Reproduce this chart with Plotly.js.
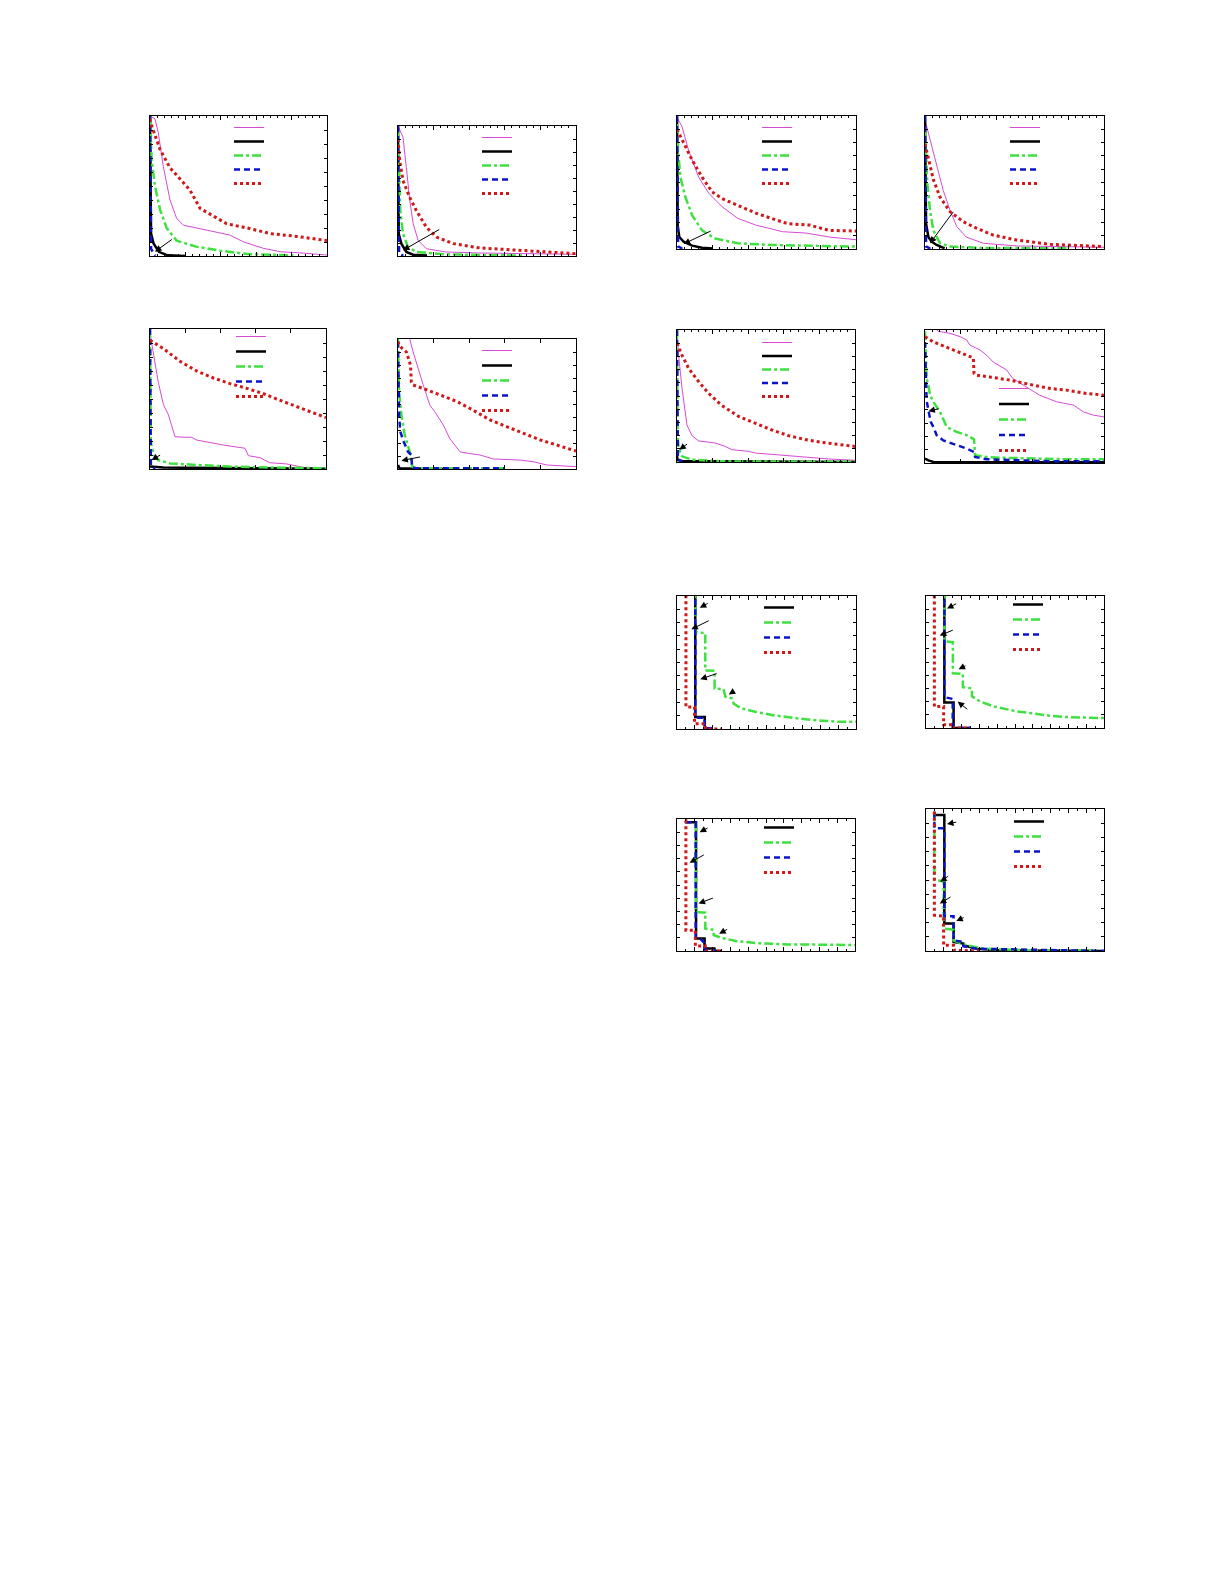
<!DOCTYPE html>
<html><head><meta charset="utf-8">
<script src="https://cdn.plot.ly/plotly-3.0.1.min.js"></script>
<style>html,body{margin:0;padding:0;background:#fff}#chart{width:1225px;height:1585px}</style>
</head><body><div id="chart"></div>
<script>
// ---------- DATA (x in % of run, y normalised) ----------
// Panel 1
const mag1x=[0,2.8,4.7,7.5,11.3,15,18.9,26,39.6,45,53,64,74,83,100];
const mag1y=[1.0,0.98,0.88,0.64,0.40,0.27,0.22,0.20,0.16,0.15,0.10,0.055,0.03,0.024,0.007];
const blk1x=[0,0.3,0.6,2,5,10,20];
const blk1y=[1,0.3,0.16,0.09,0.03,0.005,0];
const grn1x=[0,0.4,0.9,2.8,5.7,9.4,15,26,39.6,55,68,81];
const grn1y=[1,0.9,0.69,0.5,0.33,0.2,0.11,0.067,0.038,0.014,0.007,0.005];
const blu1x=[0,0.3,0.6,3];
const blu1y=[1,0.5,0.05,0.002];
const red1x=[0,0.4,5.7,11.3,17,22.6,28.3,34,43.4,55,68,83,100];
const red1y=[0.98,0.95,0.76,0.63,0.55,0.47,0.34,0.30,0.23,0.20,0.16,0.14,0.11];
const arrows1=[[2.8,0.031,13.2,0.126]];
// Panel 2
const mag2x=[0,0.9,2.8,4.7,6.6,8.5,11.3,16,27,46,100];
const mag2y=[1.0,0.97,0.915,0.68,0.43,0.25,0.12,0.056,0.031,0.023,0.013];
const blk2x=[0,0.4,1.9,4.7,8.5,16];
const blk2y=[1,0.17,0.095,0.031,0.01,0.003];
const grn2x=[0,0.6,1.3,2.8,5.6,10.3,27,46,70];
const grn2y=[0.95,0.61,0.35,0.17,0.07,0.031,0.013,0.008,0.003];
const blu2x=[0,0.3,0.6,3];
const blu2y=[1,0.4,0.02,0.002];
const red2x=[0,0.9,2.8,6.6,10.3,16,21.6,31,46,65,84,100];
const red2y=[0.9,0.74,0.58,0.45,0.35,0.22,0.146,0.095,0.062,0.044,0.031,0.018];
const arrows2=[[2.8,0.044,24,0.21]];
// Panel 3
const mag3x=[0,2.8,6.5,12.1,17.7,25,34,44,59,72,85,100];
const mag3y=[0.99,0.92,0.74,0.54,0.42,0.32,0.23,0.18,0.13,0.12,0.09,0.07];
const blk3x=[0,0.4,1.3,3.7,8.4,14,20];
const blk3y=[1,0.17,0.09,0.055,0.025,0.01,0.003];
const grn3x=[0,0.6,1.9,4.7,8.4,14,21,34,53,72,100];
const grn3y=[0.94,0.74,0.54,0.39,0.255,0.14,0.08,0.043,0.03,0.025,0.018];
const blu3x=[0,0.3,0.6,3];
const blu3y=[1,0.4,0.02,0.002];
const red3x=[0,2.8,8.4,14,19.6,25,34,44,55,62,74,85,100];
const red3y=[0.9,0.82,0.67,0.54,0.43,0.38,0.33,0.27,0.22,0.19,0.18,0.14,0.135];
const arrows3=[[3.7,0.038,19.6,0.14]];
// Panel 4
const mag4x=[0,2.8,6.5,10.2,14,17.7,23,32.6,51,70,100];
const mag4y=[0.97,0.82,0.62,0.44,0.29,0.17,0.09,0.043,0.023,0.018,0.013];
const blk4x=[0,0.6,1.9,3.7,6.5,11];
const blk4y=[1,0.19,0.09,0.055,0.03,0.005];
const grn4x=[0,0.6,1.3,2.8,4.7,8.4,14,32.6,79];
const grn4y=[0.9,0.74,0.49,0.29,0.14,0.043,0.018,0.008,0.005];
const blu4x=[0,0.3,0.6,3];
const blu4y=[1,0.4,0.02,0.002];
const red4x=[0,1.9,4.7,8.4,14,21.4,29,38,51,70,100];
const red4y=[0.79,0.67,0.52,0.39,0.28,0.205,0.155,0.105,0.068,0.035,0.018];
const arrows4=[[2.8,0.043,16.4,0.29]];
// Panel 5
const mag5x=[0,1.9,4.7,7.6,10.4,12.3,14.2,23.7,26.5,41.7,54,55.9,62.5,68,77.7,87,100];
const mag5y=[0.97,0.84,0.62,0.46,0.39,0.31,0.23,0.226,0.207,0.171,0.148,0.095,0.081,0.045,0.036,0.012,0.0];
const blk5x=[0,7.6,100];
const blk5y=[0.017,0.01,0.002];
const grn5x=[0,0.2,0.5,0.9,2.3,4.7,11.4,26.5,45.5,64,100];
const grn5y=[1,0.6,0.2,0.16,0.1,0.064,0.04,0.029,0.017,0.012,0.005];
const blu5x=[0,0.2,0.5,3];
const blu5y=[1,0.5,0.02,0.002];
const red5x=[0,7.6,17,26.5,36,45.5,55,64,74,83,93,100];
const red5y=[0.92,0.86,0.77,0.70,0.65,0.61,0.576,0.54,0.49,0.445,0.40,0.367];
const arrows5=[[0.9,0.064,6.6,0.105]];
// Panel 6
const mag6x=[4,6.6,8.5,11.3,14.1,17.9,20.7,25.4,29,34.8,39.5,46,53.6,68.6,76,83.6,100];
const mag6y=[1.2,1.0,0.90,0.77,0.65,0.49,0.44,0.34,0.236,0.133,0.12,0.108,0.077,0.069,0.056,0.031,0.018];
const blk6x=[0,0.9,30];
const blk6y=[0.03,0.005,0];
const grn6x=[0,0.3,0.6,1.9,3.8,6.6,8.1,10.3,60];
const grn6y=[1,0.8,0.595,0.415,0.26,0.133,0.018,0.005,0.005];
const blu6x=[0,0.6,1.3,3.2,5.6,7.5,7.9,10.3,60];
const blu6y=[0.98,0.415,0.287,0.21,0.133,0.108,0.01,0.005,0.005];
const red6x=[0,0.6,4.7,7,7.5,8.5,16,23.5,33,42,51.7,61,70.5,80,89,100];
const red6y=[0.98,0.95,0.90,0.80,0.67,0.646,0.61,0.57,0.52,0.454,0.377,0.326,0.274,0.223,0.185,0.138];
const arrows6=[[1.9,0.064,13.2,0.095]];
// Panel 7
const mag7x=[0,0.9,2.8,5.6,8.4,12.1,21.5,27,31,40,44,59,72,85,100];
const mag7y=[0.99,0.81,0.56,0.28,0.2,0.16,0.144,0.118,0.093,0.081,0.068,0.05,0.035,0.023,0.013];
const blk7x=[0,0.3,3,100];
const blk7y=[0.05,0.015,0.008,0.0];
const grn7x=[0,0.3,0.9,2.8,8.4,25,100];
const grn7y=[1,0.2,0.106,0.043,0.018,0.005,0.001];
const blu7x=[0,0.2,0.5,3];
const blu7y=[1,0.5,0.02,0.002];
const red7x=[0,2.8,6.5,12.1,17.8,25,34.6,44,53,62.6,72,81,100];
const red7y=[0.90,0.81,0.71,0.61,0.52,0.43,0.345,0.295,0.244,0.20,0.17,0.149,0.118];
const arrows7=[[1.3,0.093,6.5,0.144]];
// Panel 8
const mag8x=[5,7.4,14,19.6,23.3,25,30.7,34.5,38,45.6,49,55,64,73.6,83,88.5,94,100];
const mag8y=[1.02,0.99,0.975,0.95,0.925,0.887,0.85,0.81,0.76,0.70,0.636,0.585,0.51,0.46,0.435,0.384,0.36,0.347];
const blk8x=[0,1.9,4.7,100];
const blk8y=[0.033,0.02,0.008,0.005];
const grn8x=[0,0.4,0.9,1.9,2.8,4.7,8.4,12.1,17.7,23.3,27.4,28,34.5,42,60.5,79,100];
const grn8y=[0.99,0.81,0.636,0.585,0.51,0.46,0.384,0.271,0.234,0.209,0.178,0.058,0.045,0.04,0.033,0.028,0.028];
const blu8x=[0,0.6,0.9,1.9,3.2,4.7,6.5,10.2,15.8,23.3,27.4,28,34.5,51,70,100];
const blu8y=[0.91,0.61,0.47,0.397,0.31,0.27,0.209,0.17,0.146,0.108,0.083,0.045,0.028,0.02,0.013,0.013];
const red8x=[0,4.7,14,23.3,27,27.4,28.9,38,47.5,60.5,70,79,90,100];
const red8y=[0.95,0.91,0.86,0.81,0.79,0.673,0.66,0.643,0.623,0.585,0.56,0.548,0.523,0.51];
const arrows8=[[1.9,0.39,8.4,0.41]];
// Panel 9
const blk9x=[10.2,10.2,15.5,15.5,20];
const blk9y=[1.05,0.09,0.09,0,0];
const grn9x=[10.2,10.2,15.8,15.8,21,21,26,27,30.7,31.7,36,43.6,53,62.5,72,81,90,100];
const grn9y=[1.05,0.73,0.72,0.44,0.4375,0.305,0.30,0.243,0.23,0.19,0.155,0.13,0.105,0.0875,0.0725,0.0625,0.055,0.055];
const blu9x=[10.2,10.2,15.5,15.5,22];
const blu9y=[1.05,0.085,0.085,0.005,0.005];
const red9x=[5,5,9.8,9.8,15.8,15.8,25];
const red9y=[1.05,0.165,0.165,0.04,0.04,0,0];
const arrows9=[[12.7,0.9125,18,0.95],[8,0.75,18.6,0.82],[13,0.375,23,0.42],[28.9,0.26,32.6,0.29]];
// Panel 10
const blk10x=[10.3,10.3,15.5,15.5,25];
const blk10y=[1.05,0.193,0.193,0,0];
const grn10x=[10.3,10.3,15.1,15.1,20.7,20.7,25.8,25.8,30.5,38,51,60,70,79,100];
const grn10y=[1.05,0.658,0.65,0.415,0.41,0.31,0.30,0.24,0.2,0.163,0.126,0.108,0.093,0.083,0.075];
const blu10x=[10.3,10.3,15,15,25];
const blu10y=[1.05,0.234,0.22,0,0];
const red10x=[4.7,4.7,9.9,9.9,15.5,15.5,25];
const red10y=[1.05,0.163,0.163,0.025,0.025,0,0];
const arrows10=[[11.8,0.905,17.8,0.947],[7.7,0.70,15.9,0.746],[18.3,0.445,23,0.477],[17.8,0.20,24,0.133]];
// Panel 11
const blk11x=[4.7,10.7,10.7,15.5,15.5,21,21,25];
const blk11y=[0.975,0.975,0.094,0.094,0.018,0.018,0,0];
const grn11x=[10.7,10.7,15.9,15.9,20.6,20.6,25,33,44,62.6,81,100];
const grn11y=[0.975,0.296,0.29,0.17,0.16,0.12,0.10,0.076,0.06,0.05,0.048,0.045];
const blu11x=[4.7,10.5,10.5,13,15.5,15.5,22];
const blu11y=[0.975,0.975,0.106,0.094,0.06,0.01,0.005];
const red11x=[4.7,5,5,10.3,10.3,15.9,15.9,25];
const red11y=[0.987,0.987,0.157,0.157,0.038,0.038,0,0];
const arrows11=[[12.7,0.9,18,0.937],[7.1,0.668,15.9,0.734],[12.1,0.36,21,0.405],[23.7,0.13,29,0.17]];
// Panel 12
const blk12x=[4.7,4.7,10.3,10.3,15.5,15.5,21,21,28.6,41.7,100];
const blk12y=[0.98,0.957,0.957,0.193,0.193,0.064,0.052,0.04,0.016,0.005,0];
const grn12x=[4.7,4.7,9.9,9.9,15.5,15.5,21,32,60,94];
const grn12y=[0.98,0.5,0.49,0.158,0.15,0.075,0.047,0.016,0.005,0.005];
const blu12x=[4.7,4.7,10.3,10.3,15.5,15.5,21,21,28.6,100];
const blu12y=[0.98,0.864,0.864,0.245,0.245,0.075,0.064,0.033,0.016,0];
const red12x=[4.7,4.7,9.9,9.9,15.5,15.5,32];
const red12y=[0.98,0.252,0.245,0.04,0.04,0.005,0];
const arrows12=[[11.8,0.894,17.8,0.91],[8,0.487,13.3,0.534],[7.7,0.334,14.6,0.386],[17,0.212,22,0.24]];

// ---------- STYLES / LAYOUT ----------
const STY={
  mag:{color:'#d64ad6',width:1,dash:'solid'},
  blk:{color:'#000000',width:2.5,dash:'solid'},
  grn:{color:'#3fe03f',width:2.5,dash:'dashdot'},
  blu:{color:'#0a14c8',width:2.5,dash:'6px,4px'},
  red:{color:'#d01818',width:3,dash:'3px,3px'}
};
const PANELS=[
  {s:[['mag',mag1x,mag1y],['blk',blk1x,blk1y],['grn',grn1x,grn1y],['blu',blu1x,blu1y],['red',red1x,red1y]],a:arrows1},
  {s:[['mag',mag2x,mag2y],['blk',blk2x,blk2y],['grn',grn2x,grn2y],['blu',blu2x,blu2y],['red',red2x,red2y]],a:arrows2},
  {s:[['mag',mag3x,mag3y],['blk',blk3x,blk3y],['grn',grn3x,grn3y],['blu',blu3x,blu3y],['red',red3x,red3y]],a:arrows3},
  {s:[['mag',mag4x,mag4y],['blk',blk4x,blk4y],['grn',grn4x,grn4y],['blu',blu4x,blu4y],['red',red4x,red4y]],a:arrows4},
  {s:[['mag',mag5x,mag5y],['blk',blk5x,blk5y],['grn',grn5x,grn5y],['blu',blu5x,blu5y],['red',red5x,red5y]],a:arrows5},
  {s:[['mag',mag6x,mag6y],['blk',blk6x,blk6y],['grn',grn6x,grn6y],['blu',blu6x,blu6y],['red',red6x,red6y]],a:arrows6},
  {s:[['mag',mag7x,mag7y],['blk',blk7x,blk7y],['grn',grn7x,grn7y],['blu',blu7x,blu7y],['red',red7x,red7y]],a:arrows7},
  {s:[['mag',mag8x,mag8y],['blk',blk8x,blk8y],['grn',grn8x,grn8y],['blu',blu8x,blu8y],['red',red8x,red8y]],a:arrows8},
  {s:[['blk',blk9x,blk9y],['grn',grn9x,grn9y],['blu',blu9x,blu9y],['red',red9x,red9y]],a:arrows9},
  {s:[['blk',blk10x,blk10y],['grn',grn10x,grn10y],['blu',blu10x,blu10y],['red',red10x,red10y]],a:arrows10},
  {s:[['blk',blk11x,blk11y],['grn',grn11x,grn11y],['blu',blu11x,blu11y],['red',red11x,red11y]],a:arrows11},
  {s:[['blk',blk12x,blk12y],['grn',grn12x,grn12y],['blu',blu12x,blu12y],['red',red12x,red12y]],a:arrows12}
];
// pixel boxes [left,right,top,bottom]
const BOX=[[150,327,116,256],[398,576,126,256],[677,856,116,249],[925,1104,116,249],
           [150,326,329,469],[398,576,339,469],[677,855,330,462],[925,1104,330,463],
           [677,856,596,729],[926,1104,596,728],[677,855,819,951],[926,1104,809,951]];
// legend: first sample [x, y, spacing] in px
const LEG=[[240,127,14],[488,137,14],[768,127,14],[1016,127,14],[242,336,15],[488,350,15],[768,342,13.5],[1005,388,15.5],
           [770,607,15],[1019,604,15],[770,827,15],[1020,821,15]];
const W=1225,H=1585;

const data=[], layout={width:W,height:H,margin:{l:0,r:0,t:0,b:0},paper_bgcolor:'#fff',plot_bgcolor:'#fff',
  showlegend:true,annotations:[],font:{family:'Liberation Sans, Arial',size:8}};

let legCount=0;
PANELS.forEach((p,i)=>{
  const n=i+1, xs=n===1?'':n, ax='x'+xs, ay='y'+xs;
  const b=BOX[i];
  const denseX = i>=8;
  const coarseX = (i===4||i===5);
  layout['xaxis'+xs]={domain:[b[0]/W,b[1]/W],range:[0,100],anchor:ay,showline:true,linecolor:'#000',linewidth:1.2,
    mirror:'allticks',ticks:'inside',ticklen:4,tickcolor:'#000',tickwidth:1,dtick:coarseX?20:(denseX?10:20),
    showticklabels:false,showgrid:false,zeroline:false,fixedrange:true,
    minor:coarseX?undefined:{ticks:'inside',ticklen:2,dtick:denseX?5:4,tickcolor:'#000'}};
  layout['yaxis'+xs]={domain:[1-b[3]/H,1-b[2]/H],range:[0,1],anchor:ax,showline:true,linecolor:'#000',linewidth:1.2,
    mirror:'allticks',ticks:'inside',ticklen:3,tickcolor:'#000',tickwidth:1,dtick:0.1,
    showticklabels:false,showgrid:false,zeroline:false,fixedrange:true};
  p.s.forEach(([k,x,y],j)=>{
    legCount++;
    const lg = legCount===1?'legend':'legend'+legCount;
    data.push({type:'scatter',mode:'lines',x:x,y:y,xaxis:ax,yaxis:ay,name:'',legend:lg,showlegend:true,
      line:Object.assign({},STY[k]),hoverinfo:'skip'});
    const cy = LEG[i][1] + j*LEG[i][2];
    layout[lg]={x:(LEG[i][0]-11)/W,y:1-(cy-14)/H,xanchor:'left',yanchor:'top',
      bgcolor:'rgba(0,0,0,0)',borderwidth:0,itemwidth:30,font:{size:8}};
  });
  p.a.forEach(([hx,hy,tx,ty])=>{
    layout.annotations.push({xref:ax,yref:ay,axref:ax,ayref:ay,x:hx,y:hy,ax:tx,ay:ty,text:'',
      showarrow:true,arrowhead:2,arrowsize:1.3,arrowwidth:1,arrowcolor:'#000'});
  });
});

Plotly.newPlot('chart',data,layout,{staticPlot:true,displayModeBar:false});
</script>
</body></html>
